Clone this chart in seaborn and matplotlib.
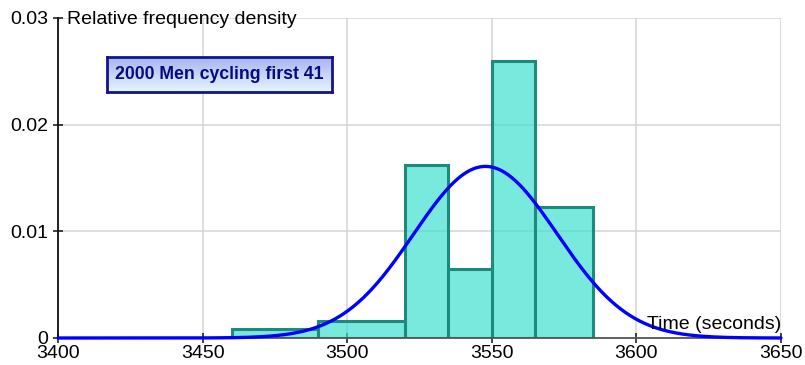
import numpy as np
import pandas as pd
import matplotlib
matplotlib.use("Agg")
import matplotlib.pyplot as plt
import seaborn as sns
from matplotlib.colors import LinearSegmentedColormap

# Class boundaries (seconds) and relative frequency densities
bin_edges = [3460, 3490, 3520, 3535, 3550, 3565, 3585]
densities = [0.00081, 0.00164, 0.01625, 0.0065, 0.0260, 0.0123]

# Fitted normal curve parameters
mu = 3547.8
sigma = 24.8

x_ticks = [3400, 3450, 3500, 3550, 3600, 3650]
y_ticks = [0, 0.01, 0.02, 0.03]
y_tick_labels = ["0", "0.01", "0.02", "0.03"]

title_text = "2000 Men cycling first 41"
y_label = "Relative frequency density"
x_label = "Time (seconds)"

sns.set_theme(style="white")
plt.rcParams["font.family"] = ["Liberation Sans", "DejaVu Sans"]

fig = plt.figure(figsize=(8.05, 3.65), dpi=100)
ax = fig.add_axes([58 / 805, 1 - 338 / 365, 723 / 805, 320 / 365])

# Histogram from the densities as weights of bin midpoints
lefts = np.array(bin_edges[:-1])
rights = np.array(bin_edges[1:])
df = pd.DataFrame({"time": (lefts + rights) / 2, "density": densities})
sns.histplot(data=df, x="time", weights="density", bins=bin_edges, stat="count",
             color="#40E0D0", alpha=0.7, edgecolor="#1e8a7c", linewidth=2.2,
             ax=ax, zorder=2)

# Normal density curve
xs = np.linspace(3400, 3650, 600)
ys = np.exp(-0.5 * ((xs - mu) / sigma) ** 2) / (sigma * np.sqrt(2 * np.pi))
sns.lineplot(x=xs, y=ys, color="#0000ff", linewidth=2.4, ax=ax, zorder=4,
             clip_on=False)

ax.set_xlim(3400, 3650)
ax.set_ylim(0, 0.03)
ax.set_xticks(x_ticks)
ax.set_xticklabels([str(t) for t in x_ticks])
ax.set_yticks(y_ticks)
ax.set_yticklabels(y_tick_labels)
ax.set_xlabel("")
ax.set_ylabel("")

ax.grid(True, color="#d4d4d4", linewidth=1.1, zorder=0)
ax.set_axisbelow(True)
for side in ("top", "right"):
    ax.spines[side].set_visible(False)
ax.spines["left"].set_color("#111111")
ax.spines["left"].set_linewidth(1.3)
ax.spines["bottom"].set_color("#555555")
ax.spines["bottom"].set_linewidth(1.3)
ax.spines["left"].set_zorder(3)
ax.spines["bottom"].set_zorder(3)

ax.tick_params(axis="both", direction="inout", length=6.5, width=1.1,
               colors="#111111", labelsize=14, labelcolor="black",
               left=True, bottom=True)
ax.tick_params(axis="y", pad=4)
ax.tick_params(axis="x", pad=2)

ax.text(3403.2, 0.03, y_label, fontsize=14, ha="left", va="center_baseline",
        color="black")
ax.text(3650, 0.00084, x_label, fontsize=14, ha="right", va="baseline",
        color="black", zorder=5)

# Title box with a vertical blue gradient
box = ax.inset_axes([0.0678, 0.769, 0.311, 0.109])
cmap = LinearSegmentedColormap.from_list("boxfill", ["#a8b2f0", "#e6f6ff"])
box.imshow(np.linspace(0, 1, 64).reshape(-1, 1), aspect="auto", cmap=cmap,
           extent=[0, 1, 0, 1], origin="upper")
box.set_xticks([])
box.set_yticks([])
for s in box.spines.values():
    s.set_color("#14148a")
    s.set_linewidth(2)
box.text(0.5, 0.5, title_text, transform=box.transAxes, ha="center",
         va="center", fontsize=12.7, fontweight="bold", color="#0a0a80")

fig.savefig("out.png", dpi=100)
